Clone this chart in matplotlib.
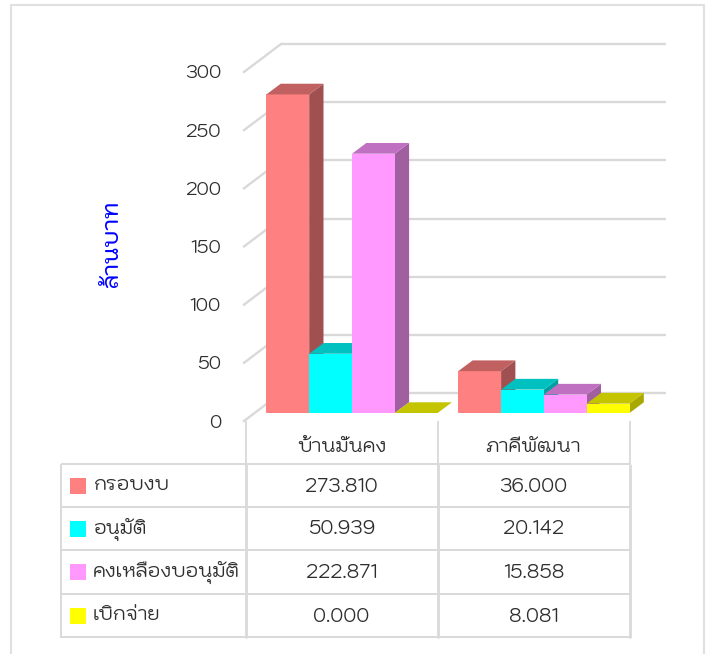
import matplotlib
matplotlib.use('Agg')
import matplotlib.pyplot as plt
from matplotlib.patches import Polygon, Rectangle
from matplotlib.lines import Line2D

W, H = 710, 654
FONT = 'Kodchasan'

categories = ['บ้านมั่นคง', 'ภาคีพัฒนา']
series_names = ['กรอบงบ', 'อนุมัติ', 'คงเหลืองบอนุมัติ', 'เบิกจ่าย']
budget = [273.810, 36.000]
approved = [50.939, 20.142]
remaining = [222.871, 15.858]
spent = [0.000, 8.081]
table_text = [['273.810', '36.000'], ['50.939', '20.142'],
              ['222.871', '15.858'], ['0.000', '8.081']]
y_ticks = [0, 50, 100, 150, 200, 250, 300]
y_title = 'ล้านบาท'
series_values = [budget, approved, remaining, spent]
front_cols = ['#FF8080', '#00FFFF', '#FF99FF', '#FFFF00']
top_cols = ['#C06060', '#00C0C0', '#C070C0', '#C4C400']
side_cols = ['#A05050', '#00A0A0', '#A060A0', '#A8A800']

GRID = '#D9D9D9'
TXT = '#2E2E2E'

fig = plt.figure(figsize=(W / 100, H / 100), dpi=100, facecolor='white')

pix = fig.add_axes([0, 0, 1, 1], zorder=1)
pix.set_xlim(0, W); pix.set_ylim(H, 0); pix.axis('off')

PX_PER_UNIT = 1.1635
X0, CAT_W = 244.7, 192.2
Y0 = 413.0
ax = fig.add_axes([0, 0, 1, 1], zorder=2)
ax.patch.set_alpha(0)
ax.set_xlim(-X0 / CAT_W, (W - X0) / CAT_W)
ax.set_ylim(-(H - Y0) / PX_PER_UNIT, Y0 / PX_PER_UNIT)
ax.axis('off')

def hline(x0, x1, y, lw=2.0, col=GRID):
    pix.add_line(Line2D([x0, x1], [y, y], color=col, lw=lw, solid_capstyle='butt'))

def vline(x, y0, y1, lw=2.0, col=GRID):
    pix.add_line(Line2D([x, x], [y0, y1], color=col, lw=lw, solid_capstyle='butt'))

pix.add_line(Line2D([11, 11, 703.5, 703.5], [654, 4.5, 4.5, 654], color='#E0E0E0', lw=1.5))

WALL0, FRONT0 = 393.0, 421.0
WALL_SCALE = (393.0 - 44.0) / 300
for v in y_ticks:
    yb = WALL0 - v * WALL_SCALE
    yf = FRONT0 - v * WALL_SCALE
    hline(281, 666, yb, lw=1.7)
    pix.add_line(Line2D([244, 281], [yf, yb], color=GRID, lw=1.7))
    pix.text(221, yf + 2, str(v), ha='right', va='center', family=FONT, fontsize=13.2, color=TXT)

pix.text(113, 244, y_title, rotation=90, ha='center', va='center', family=FONT,
         fontsize=16, color='#0000FF', weight='medium')

BAR_W = 42.8 / CAT_W
GROUP_START = [21.7 / CAT_W, 213.6 / CAT_W]
DX, DY = 14.3 / CAT_W, 10.7 / PX_PER_UNIT
for s, vals in enumerate(series_values):
    for c, val in enumerate(vals):
        x = GROUP_START[c] + s * BAR_W
        ax.bar(x, val, width=BAR_W, bottom=0, align='edge', color=front_cols[s], linewidth=0, zorder=3)
        ax.add_patch(Polygon([(x, val), (x + BAR_W, val), (x + BAR_W + DX, val + DY), (x + DX, val + DY)],
                             closed=True, facecolor=top_cols[s], edgecolor='none', zorder=3))
        ax.add_patch(Polygon([(x + BAR_W, 0), (x + BAR_W + DX, DY), (x + BAR_W + DX, val + DY), (x + BAR_W, val)],
                             closed=True, facecolor=side_cols[s], edgecolor='none', zorder=2.5))

ROWS = [464, 507, 550, 594, 637]
for y in ROWS:
    hline(61, 630, y, lw=1.4)
vline(61, 464, 638, lw=1.4)
for x in (245.5, 437.5, 629.5):
    vline(x, 421, 464, lw=1.3)
    vline(x, 464, 638, lw=2.0)

COL_C = [341.5, 533.5]
for cx, cat in zip(COL_C, categories):
    pix.text(cx, 448, cat, ha='center', va='center', family=FONT, fontsize=13.7, color=TXT)

for r, name in enumerate(series_names):
    cy = (ROWS[r] + ROWS[r + 1]) / 2
    pix.add_patch(Rectangle((70, cy - 8), 16, 16, facecolor=front_cols[r], edgecolor='none'))
    pix.text(93, cy + 0.5, name, ha='left', va='center', family=FONT, fontsize=13.7, color=TXT)
    for cx, t in zip(COL_C, table_text[r]):
        pix.text(cx, cy + 1.5, t, ha='center', va='center', family=FONT, fontsize=13.8, color=TXT)

fig.savefig('out.png', dpi=100)
